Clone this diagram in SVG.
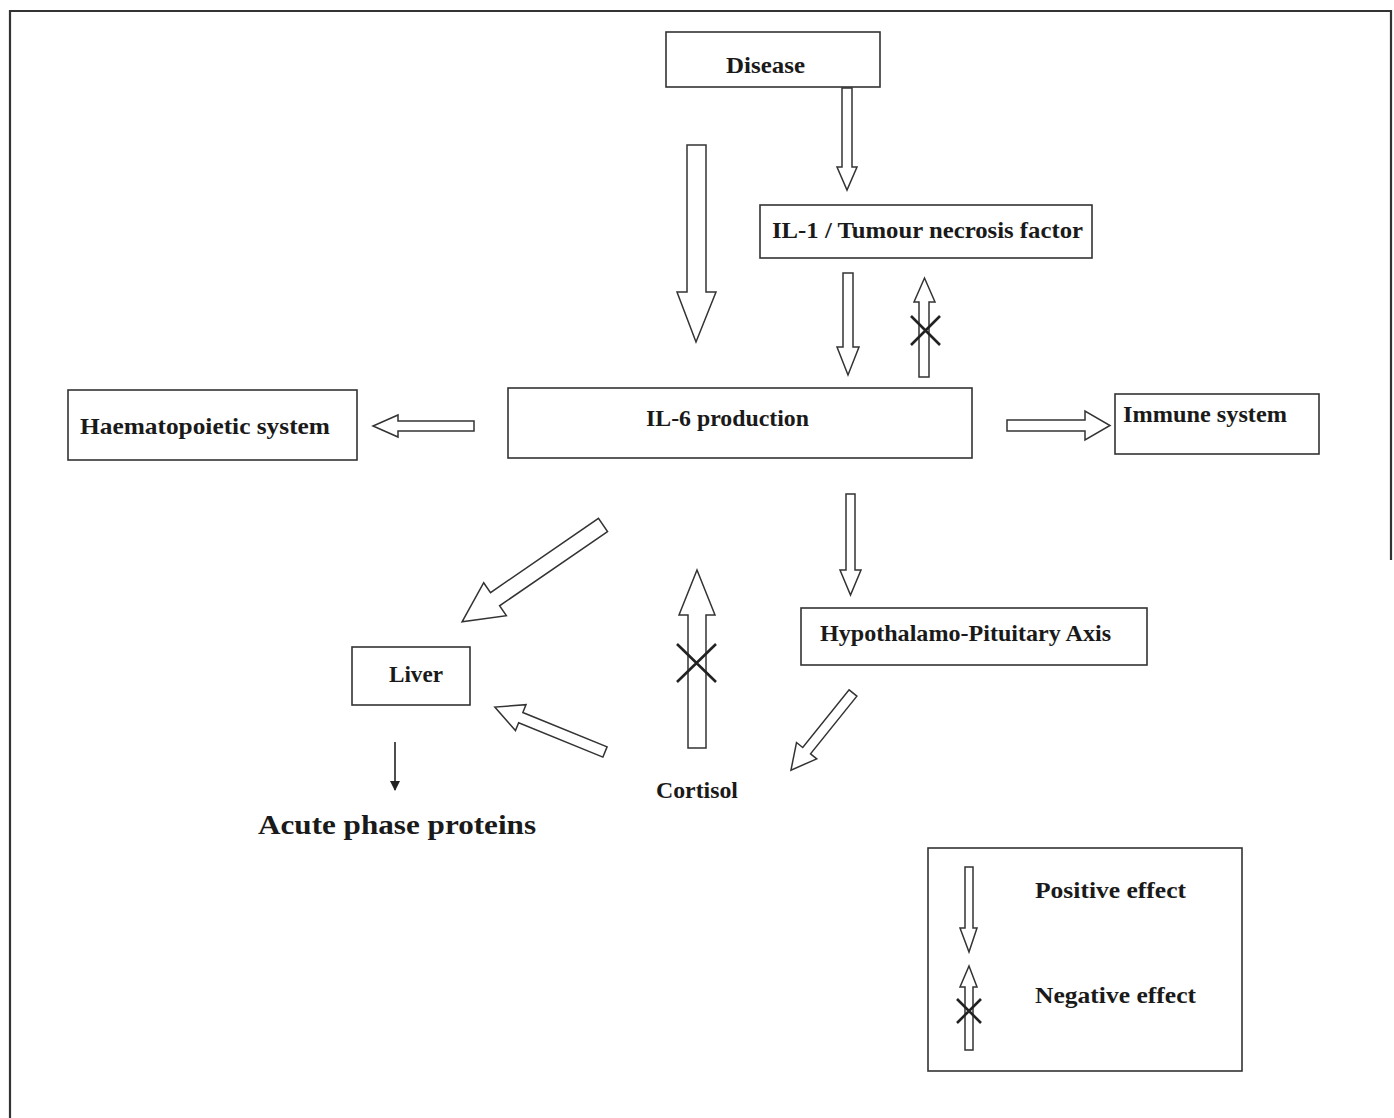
<svg xmlns="http://www.w3.org/2000/svg" width="1394" height="1118" viewBox="0 0 1394 1118">
  <style>
    .box { fill: #ffffff; stroke: #333333; stroke-width: 1.6; }
    .arrow { fill: #ffffff; stroke: #333333; stroke-width: 1.5; stroke-linejoin: miter; }
    .cross { stroke: #222222; stroke-width: 2.6; fill: none; }
    .frame { fill: none; stroke: #333333; stroke-width: 2.2; }
    .lbl { font-family: "Liberation Serif", "Times New Roman", serif; font-weight: bold; font-size: 23px; fill: #1a1a1a; }
    .big { font-size: 28px; }
  </style>
  <defs>
    <marker id="solidHead" viewBox="0 0 10 10" refX="9" refY="5" markerWidth="10" markerHeight="10" markerUnits="userSpaceOnUse" orient="auto">
      <path d="M0,0 L10,5 L0,10 z" fill="#222222"/>
    </marker>
  </defs>

  <rect x="0" y="0" width="1394" height="1118" fill="#ffffff"/>

  <!-- outer frame (open at the bottom) -->
  <path class="frame" d="M10,1118 V11 H1391 V560"/>

  <!-- nodes -->
  <g id="disease">
    <rect class="box" x="666" y="32" width="214" height="55"/>
    <text class="lbl" x="726" y="73" textLength="79" lengthAdjust="spacingAndGlyphs">Disease</text>
  </g>
  <g id="il1-tnf">
    <rect class="box" x="760" y="205" width="332" height="53"/>
    <text class="lbl" x="772" y="238" textLength="311" lengthAdjust="spacingAndGlyphs">IL-1 / Tumour necrosis factor</text>
  </g>
  <g id="il6">
    <rect class="box" x="508" y="388" width="464" height="70"/>
    <text class="lbl" x="646" y="426" textLength="163" lengthAdjust="spacingAndGlyphs">IL-6 production</text>
  </g>
  <g id="haematopoietic">
    <rect class="box" x="68" y="390" width="289" height="70"/>
    <text class="lbl" x="80" y="434" textLength="250" lengthAdjust="spacingAndGlyphs">Haematopoietic system</text>
  </g>
  <g id="immune">
    <rect class="box" x="1115" y="394" width="204" height="60"/>
    <text class="lbl" x="1123" y="422" textLength="164" lengthAdjust="spacingAndGlyphs">Immune system</text>
  </g>
  <g id="hpa">
    <rect class="box" x="801" y="608" width="346" height="57"/>
    <text class="lbl" x="820" y="641" textLength="291" lengthAdjust="spacingAndGlyphs">Hypothalamo-Pituitary Axis</text>
  </g>
  <g id="liver">
    <rect class="box" x="352" y="647" width="118" height="58"/>
    <text class="lbl" x="389" y="682" textLength="54" lengthAdjust="spacingAndGlyphs">Liver</text>
  </g>
  <g id="cortisol">
    <text class="lbl" x="656" y="798" textLength="82" lengthAdjust="spacingAndGlyphs">Cortisol</text>
  </g>
  <g id="acute-phase">
    <text class="lbl big" x="258" y="834" textLength="278" lengthAdjust="spacingAndGlyphs">Acute phase proteins</text>
  </g>

  <!-- connectors -->
  <g id="connectors">
    <!-- Disease to IL-1 / TNF -->
    <polygon class="arrow" points="842,88 852,88 852,167 857,167 847,190 837,167 842,167"/>
    <!-- Disease to IL-6 (large) -->
    <polygon class="arrow" points="687,145 706,145 706,292 716,292 696,342 677,292 687,292"/>
    <!-- IL-1 / TNF to IL-6 -->
    <polygon class="arrow" points="843,273 853,273 853,347 859,347 848,375 837,347 843,347"/>
    <!-- IL-6 inhibiting IL-1 / TNF (up, crossed) -->
    <polygon class="arrow" points="919,377 929,377 929,302 935,302 924.5,278 914,302 919,302"/>
    <path class="cross" d="M911,316 L940,345 M940,316 L911,345"/>
    <!-- IL-6 to Haematopoietic system -->
    <polygon class="arrow" points="474,421 474,431 398,431 398,437 373,426 398,415 398,421"/>
    <!-- IL-6 to Immune system -->
    <polygon class="arrow" points="1007,420 1085,420 1085,411 1110,425.5 1085,440 1085,431 1007,431"/>
    <!-- IL-6 to Hypothalamo-Pituitary Axis -->
    <polygon class="arrow" points="846,494 855,494 855,570 861,570 850.5,595 840,570 846,570"/>
    <!-- IL-6 to Liver (large diagonal) -->
    <polygon class="arrow" transform="translate(603,525) rotate(145.5)" points="0,-8 131,-8 131,-20 171,0 131,20 131,8 0,8"/>
    <!-- Hypothalamo-Pituitary Axis to Cortisol -->
    <polygon class="arrow" transform="translate(853,693) rotate(128.8)" points="0,-5 74,-5 74,-13 99,0 74,13 74,5 0,5"/>
    <!-- Cortisol to Liver -->
    <polygon class="arrow" transform="translate(605,752) rotate(202.2)" points="0,-5.5 91,-5.5 91,-14 119,0 91,14 91,5.5 0,5.5"/>
    <!-- Cortisol inhibiting IL-6 (up, crossed) -->
    <polygon class="arrow" points="688,748 706,748 706,615 715,615 697,570 679,615 688,615"/>
    <path class="cross" d="M677,644 L716,682 M716,644 L677,682"/>
    <!-- Liver to Acute phase proteins -->
    <line x1="395" y1="742" x2="395" y2="790" stroke="#222222" stroke-width="1.6" marker-end="url(#solidHead)"/>
  </g>

  <!-- legend -->
  <g id="legend">
    <rect class="box" x="928" y="848" width="314" height="223" stroke-width="2"/>
    <polygon class="arrow" points="965,867 973,867 973,928 977,928 969,952 960,928 965,928"/>
    <text class="lbl" x="1035" y="898" textLength="151" lengthAdjust="spacingAndGlyphs">Positive effect</text>
    <polygon class="arrow" points="965,1050 973,1050 973,987 977,987 969,966 960,987 965,987"/>
    <path class="cross" d="M957,999 L981,1023 M981,999 L957,1023"/>
    <text class="lbl" x="1035" y="1003" textLength="161" lengthAdjust="spacingAndGlyphs">Negative effect</text>
  </g>
</svg>
